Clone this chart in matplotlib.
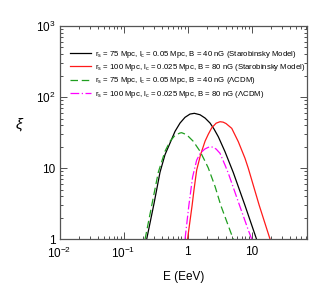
import numpy as np
import matplotlib
matplotlib.use('Agg')
import matplotlib.pyplot as plt
from matplotlib.ticker import LogLocator, FixedLocator, FuncFormatter

plt.rcParams['font.family'] = ['Liberation Sans', 'DejaVu Sans']
plt.rcParams['mathtext.fontset'] = 'custom'
plt.rcParams['mathtext.rm'] = 'Liberation Sans'
plt.rcParams['mathtext.it'] = 'Liberation Sans:italic'

# values
E_black = [0.23, 0.30, 0.372, 0.445, 0.533, 0.638, 0.764, 0.914, 1.094, 1.28, 1.57, 1.88, 2.25,
           2.6, 3.03, 3.85, 5.19, 7.9, 12.0]
xi_black = [1.0, 3.2, 8.8, 15.5, 22.6, 33.0, 43.2, 52.0, 57.8, 59.2, 56.5, 50.8, 43.2,
            35.5, 27.7, 17.1, 8.7, 3.0, 1.0]

E_red = [1.0, 1.18, 1.26, 1.39, 1.6, 1.88, 2.11, 2.39, 2.8, 3.22, 3.6, 4.0, 4.91, 6.22, 7.91,
         8.9, 13.2, 19.5]
xi_red = [1.0, 3.0, 4.9, 9.4, 15.5, 24.0, 30.0, 37.0, 43.0, 45.1, 44.5, 42.5, 36.4, 23.6, 13.8,
          10.0, 3.0, 1.0]

E_green = [0.217, 0.28, 0.35, 0.445, 0.533, 0.638, 0.764, 0.81, 0.97, 1.23, 1.57, 1.88, 2.11,
           2.7, 3.31, 5.19]
xi_green = [1.0, 3.2, 8.8, 17.3, 23.9, 29.0, 31.3, 31.6, 29.6, 23.9, 17.3, 12.5, 10.1,
            5.5, 3.0, 1.0]

E_mag = [0.914, 1.05, 1.2, 1.39, 1.6, 1.88, 2.2, 2.5, 2.8, 3.22, 3.85, 4.34, 6.5, 8.9, 10.1]
xi_mag = [1.0, 3.0, 7.5, 13.0, 16.5, 18.7, 20.0, 19.8, 18.6, 16.2, 11.1, 8.5, 3.0, 1.35, 1.0]

labels = [
    r'r$_\mathrm{s}$ = 75 Mpc, l$_\mathrm{c}$ = 0.05 Mpc, B = 40 nG (Starobinsky Model)',
    r'r$_\mathrm{s}$ = 100 Mpc, l$_\mathrm{c}$ = 0.025 Mpc, B = 80 nG (Starobinsky Model)',
    r'r$_\mathrm{s}$ = 75 Mpc, l$_\mathrm{c}$ = 0.05 Mpc, B = 40 nG ($\Lambda$CDM)',
    r'r$_\mathrm{s}$ = 100 Mpc, l$_\mathrm{c}$ = 0.025 Mpc, B = 80 nG ($\Lambda$CDM)',
]

fig = plt.figure(figsize=(3.15, 2.9), dpi=100)
ax = fig.add_axes([0.189, 0.175, 0.786, 0.735])

ax.plot(E_black, xi_black, color='black', lw=0.9, label=labels[0])
ax.plot(E_red, xi_red, color='#ff1a1a', lw=0.9, label=labels[1])
ax.plot(E_green, xi_green, color='#1f9e1f', lw=0.9, dashes=(6, 3), label=labels[2])
ax.plot(E_mag, xi_mag, color='#ff00ff', lw=0.9, dashes=(7, 2, 1, 2), label=labels[3])

ax.set_xscale('log')
ax.set_yscale('log')
ax.set_xlim(0.01, 74)
ax.set_ylim(1, 1000)


def fmt(v, pos):
    if v in (1, 10):
        return '%d' % v
    e = int(round(np.log10(v)))
    return r'10$^{%d}$' % e


ax.xaxis.set_major_locator(FixedLocator([0.01, 0.1, 1, 10]))
ax.yaxis.set_major_locator(FixedLocator([1, 10, 100, 1000]))
ax.xaxis.set_major_formatter(FuncFormatter(fmt))
ax.yaxis.set_major_formatter(FuncFormatter(fmt))
ax.xaxis.set_minor_locator(LogLocator(base=10, subs=np.arange(2, 10), numticks=20))
ax.yaxis.set_minor_locator(LogLocator(base=10, subs=np.arange(2, 10), numticks=20))

ax.tick_params(which='both', direction='in', top=True, right=True, colors='#333333',
               labelcolor='black', labelsize=8.5, width=0.6)
ax.tick_params(which='major', length=5)
ax.tick_params(which='minor', length=2.5)
ax.tick_params(axis='x', which='major', pad=5)
ax.tick_params(axis='y', which='major', pad=3)
for s in ax.spines.values():
    s.set_color('#555555')
    s.set_linewidth(0.9)

ax.set_xlabel('E (EeV)', fontsize=8.5, labelpad=7)
ax.set_ylabel(r'$\xi$', fontsize=11, rotation=0, labelpad=12)

ax.legend(loc='upper left', bbox_to_anchor=(0.0, 0.94), frameon=False, fontsize=5.6,
          handlelength=2.7, handletextpad=0.55, labelspacing=0.28, borderaxespad=0.9)

fig.savefig('out.png', dpi=100)
